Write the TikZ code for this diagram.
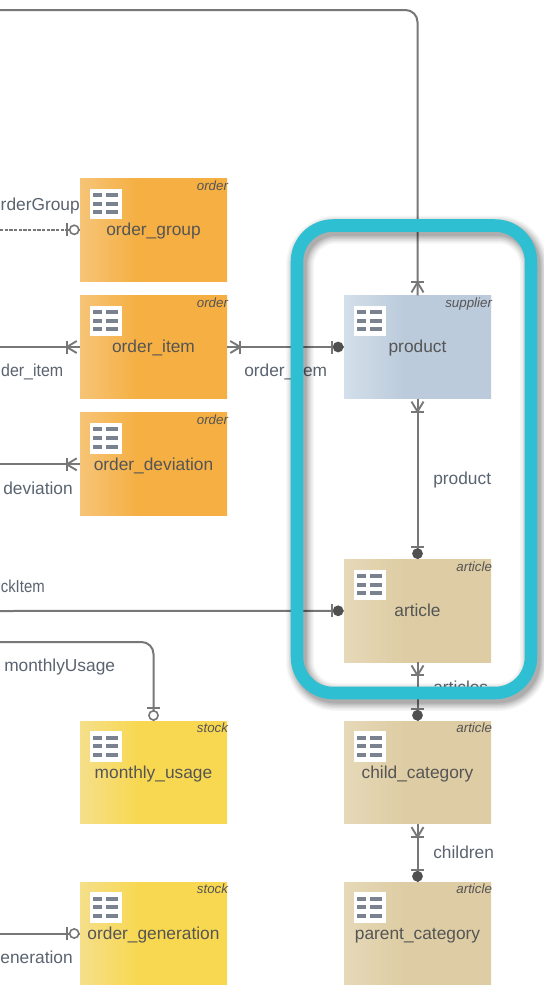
\documentclass[tikz,border=0pt]{standalone}
\usepackage{fontspec}
\setmainfont{Liberation Sans}
\definecolor{orangeL}{HTML}{F6C477}\definecolor{orangeB}{HTML}{F5AF42}
\definecolor{yellowL}{HTML}{F5DF8A}\definecolor{yellowB}{HTML}{F8D850}
\definecolor{tanL}{HTML}{E6D9B8}\definecolor{tanB}{HTML}{DECDA4}
\definecolor{blueL}{HTML}{D3DFEA}\definecolor{blueB}{HTML}{BCCBDB}
\definecolor{linegray}{HTML}{777777}
\definecolor{tipdark}{HTML}{505050}
\definecolor{textgray}{HTML}{555555}
\definecolor{labelgray}{HTML}{5A6470}
\definecolor{iconbar}{HTML}{7A8290}
\definecolor{teal}{HTML}{2FBFD3}
\pgfdeclarehorizontalshading{orangeshade}{100bp}{color(0bp)=(orangeL);color(25bp)=(orangeL);color(45bp)=(orangeB);color(100bp)=(orangeB)}
\pgfdeclarehorizontalshading{yellowshade}{100bp}{color(0bp)=(yellowL);color(25bp)=(yellowL);color(45bp)=(yellowB);color(100bp)=(yellowB)}
\pgfdeclarehorizontalshading{tanshade}{100bp}{color(0bp)=(tanL);color(25bp)=(tanL);color(45bp)=(tanB);color(100bp)=(tanB)}
\pgfdeclarehorizontalshading{blueshade}{100bp}{color(0bp)=(blueL);color(25bp)=(blueL);color(45bp)=(blueB);color(100bp)=(blueB)}
\tikzset{
  x=0.75pt,y=-0.75pt,
  entity/.style={rectangle,shading=#1,shading angle=0,minimum width=110.25pt,minimum height=77pt,inner sep=0pt,
    text height=11.3pt,text depth=2.7pt,text=textgray,font=\fontsize{13}{15}\selectfont},
  tagtext/.style={anchor=north east,inner sep=0pt,text=textgray,font=\fontsize{10}{11}\selectfont\itshape},
  edgelabel/.style={inner sep=0pt,text height=9.4pt,text depth=2.7pt,text=labelgray,font=\fontsize{13}{15}\selectfont},
  conn/.style={draw=linegray,line width=1.5pt,rounded corners=9pt},
  tipline/.style={draw=linegray,line width=1.4pt},
  crowfoot/.pic={
    \draw[tipline] (3,-6) -- (13,0) -- (3,6);
    \draw[tipline] (13,-6.5) -- (13,6.5);
  },
  onedot/.pic={
    \draw[tipline] (12,-6.5) -- (12,6.5);
    \fill[tipdark] (5.6,0) circle[radius=5.4];
  },
  zerobar/.pic={
    \draw[tipline] (12.5,-6.5) -- (12.5,6.5);
    \draw[draw=linegray,fill=white,line width=1.2pt] (5.5,0) circle[radius=4.6];
  },
  tableicon/.pic={
    \fill[white] (10,10.5) rectangle (42,40.8);
    \foreach \r in {14.6,23.3,32}{
      \fill[iconbar] (13.5,\r) rectangle (21.8,{\r+4});
      \fill[iconbar] (26,\r) rectangle (38.3,{\r+4});
    }
  }
}
\begin{document}
\begin{tikzpicture}
\useasboundingbox (0,0) rectangle (543,985);
\fill[white] (0,0) rectangle (543,985);

% entities
\node[entity=orangeshade] (order_group) at (153.5,229.8) {order\_group};
\node[entity=orangeshade] (order_item) at (153.5,347) {order\_item};
\node[entity=orangeshade] (order_deviation) at (153.5,464.3) {order\_deviation};
\node[entity=yellowshade] (monthly_usage) at (153.5,772.5) {monthly\_usage};
\node[entity=yellowshade] (order_generation) at (153.5,933.5) {order\_generation};
\node[entity=blueshade] (product) at (417.5,347) {product};
\node[entity=tanshade] (article) at (417.5,610.8) {article};
\node[entity=tanshade] (child_category) at (417.5,772.5) {child\_category};
\node[entity=tanshade] (parent_category) at (417.5,933.5) {parent\_category};

% tags
\node[tagtext] (tag_og) at ([shift={(1,2)}]order_group.north east) {order};
\node[tagtext] (tag_oi) at ([shift={(1,2)}]order_item.north east) {order};
\node[tagtext] (tag_od) at ([shift={(1,2)}]order_deviation.north east) {order};
\node[tagtext] (tag_mu) at ([shift={(1,2)}]monthly_usage.north east) {stock};
\node[tagtext] (tag_ge) at ([shift={(1,2)}]order_generation.north east) {stock};
\node[tagtext] (tag_pr) at ([shift={(1,2)}]product.north east) {supplier};
\node[tagtext] (tag_ar) at ([shift={(1,2)}]article.north east) {article};
\node[tagtext] (tag_cc) at ([shift={(1,2)}]child_category.north east) {article};
\node[tagtext] (tag_pc) at ([shift={(1,2)}]parent_category.north east) {article};

% icons
\foreach \e in {order_group,order_item,order_deviation,monthly_usage,order_generation,product,article,child_category,parent_category}
  \pic at (\e.north west) {tableicon};

% free ends
\coordinate (top_start) at (0,10);
\coordinate (top_bend) at (417.5,10);
\coordinate (og_w) at (0,229.8);
\coordinate (oi_w) at (0,347);
\coordinate (od_w) at (0,464.3);
\coordinate (st_w) at (0,611);
\coordinate (mu_w) at (0,642);
\coordinate (mu_bend) at (153.5,642);
\coordinate (ge_w) at (0,933.5);

% connectors
\draw[conn] (top_start) -- (top_bend) -- (product.north);
\draw[conn,dash pattern=on 2.5pt off 1pt,line width=1.2pt] (og_w) -- (order_group.west);
\draw[conn] (oi_w) -- (order_item.west);
\draw[conn] (od_w) -- (order_deviation.west);
\draw[conn] (st_w) -- (article.west);
\draw[conn] (mu_w) -- (mu_bend) -- (monthly_usage.north);
\draw[conn] (ge_w) -- (order_generation.west);
\draw[conn] (order_item.east) -- (product.west);
\draw[conn] (product.south) -- (article.north);
\draw[conn] (article.south) -- (child_category.north);
\draw[conn] (child_category.south) -- (parent_category.north);

% connector ends
\pic[rotate=90] at (product.north) {crowfoot};
\pic[rotate=270] at (product.south) {crowfoot};
\pic[rotate=180] at (product.west) {onedot};
\pic[rotate=90] at (article.north) {onedot};
\pic[rotate=180] at (article.west) {onedot};
\pic[rotate=270] at (article.south) {crowfoot};
\pic[rotate=90] at (child_category.north) {onedot};
\pic[rotate=270] at (child_category.south) {crowfoot};
\pic[rotate=90] at (parent_category.north) {onedot};
\pic at (order_item.east) {crowfoot};
\pic[rotate=180] at (order_item.west) {crowfoot};
\pic[rotate=180] at (order_deviation.west) {crowfoot};
\pic[rotate=180] at (order_group.west) {zerobar};
\pic[rotate=180] at (order_generation.west) {zerobar};
\pic[rotate=90] at (monthly_usage.north) {zerobar};

% connector labels
\node[edgelabel,anchor=east] (l_og) at (80,206) {rderGroup};
\node[edgelabel,anchor=east] (l_oi) at (63.5,372) {\scalebox{0.92}[1]{der\_item}};
\node[edgelabel,anchor=east] (l_od) at (73,490.5) {deviation};
\node[edgelabel,anchor=east] (l_st) at (45,588) {\scalebox{0.86}[1]{ckItem}};
\node[edgelabel,anchor=west] (l_mu) at (4,667.5) {monthlyUsage};
\node[edgelabel,anchor=east] (l_ge) at (73,959.5) {eneration};
\node[edgelabel,anchor=west] (l_oi2) at (244,372) {order\_item};
\node[edgelabel,anchor=west] (l_pr) at (433,480.5) {product};
\node[edgelabel,anchor=west] (l_ar) at (433,689.5) {articles};
\node[edgelabel,anchor=west] (l_ch) at (433,854) {children};

% highlight frame
\foreach \w/\o in {28/0.035,25/0.045,22/0.055,19/0.065,16/0.075,13/0.09}
  \draw[black,opacity=\o,line width=\w*0.75pt,rounded corners=27pt]
    (300,229.5) rectangle (534,697);
\draw[teal,line width=9.4pt,rounded corners=27pt] (297,225.5) rectangle (531,693);
\end{tikzpicture}
\end{document}
